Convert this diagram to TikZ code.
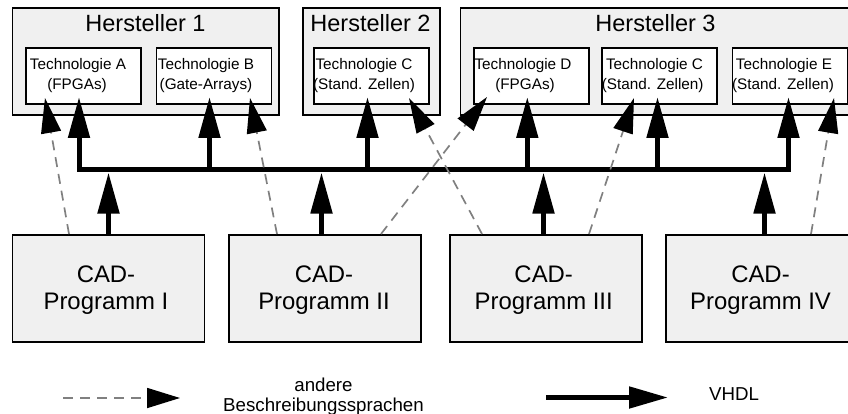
\documentclass[tikz,border=0pt]{standalone}
\usepackage{fontspec}
\setmainfont{Liberation Sans}
\usetikzlibrary{arrows.meta}
\definecolor{boxfill}{HTML}{F0F0F0}
\tikzset{
  x=1pt,y=-1pt,
  maker/.style={draw=black,line width=1.9pt,fill=boxfill,minimum height=107pt,anchor=north west,inner sep=0pt},
  tech/.style={draw=black,line width=1.9pt,fill=white,minimum width=115pt,minimum height=56pt,anchor=north west,inner sep=0pt},
  cad/.style={draw=black,line width=1.9pt,fill=boxfill,minimum width=192pt,minimum height=107pt,anchor=north west,inner sep=0pt},
  cadt/.style={inner sep=0pt,align=center,font=\fontsize{23.9}{26.5}\selectfont},
  mk/.style={font=\fontsize{23.5}{26}\selectfont,inner sep=0pt,anchor=base},
  tl/.style={font=\fontsize{15.3}{18}\selectfont,inner sep=0pt,anchor=base},
  lg/.style={font=\fontsize{18.7}{20}\selectfont,inner sep=0pt,anchor=base},
  vhdl/.style={line width=5pt,-{Triangle[length=41pt,width=21pt]}},
  other/.style={line width=1.7pt,draw=black!50,dash pattern=on 10pt off 7pt,-{Triangle[length=35pt,width=20pt,fill=black,color=black]}},
  bus/.style={line width=5pt,line cap=rect}
}
\begin{document}
\begin{tikzpicture}
\useasboundingbox (0,0) rectangle (848,414);
% makers
\node[maker,minimum width=266.5pt] (h1) at (11.5,7) {};
\node[maker,minimum width=137pt] (h2) at (302,7) {};
\node[maker,minimum width=396pt] (h3) at (459.5,7) {};
\node[mk] (h1t) at (145.5,32) {Hersteller 1};
\node[mk] (h2t) at (370.5,32) {Hersteller 2};
\node[mk] (h3t) at (655.5,32) {Hersteller 3};
% technologies
\node[tech] (ta) at (25,47) {};
\node[tech] (tb) at (155.5,47) {};
\node[tech] (tc) at (313,47) {};
\node[tech] (td) at (473,47) {};
\node[tech] (tf) at (601,47) {};
\node[tech] (te) at (731.5,47) {};
\node[tl] (ta1) at (78,70) {Technologie A};
\node[tl] (ta2) at (77,90) {(FPGAs)};
\node[tl] (tb1) at (206,70) {Technologie B};
\node[tl] (tb2) at (206,90) {(Gate-Arrays)};
\node[tl] (tc1) at (364,70) {Technologie C};
\node[tl] (tc2) at (364,90) {(Stand. Zellen)};
\node[tl] (td1) at (523,70) {Technologie D};
\node[tl] (td2) at (525,90) {(FPGAs)};
\node[tl] (tf1) at (654.5,70) {Technologie C};
\node[tl] (tf2) at (652.7,90) {(Stand. Zellen)};
\node[tl] (te1) at (784,70) {Technologie E};
\node[tl] (te2) at (783,90) {(Stand. Zellen)};
% CAD
\node[cad] (c1) at (11.5,234) {};
\node[cad] (c2) at (228,234) {};
\node[cad] (c3) at (449,234) {};
\node[cad] (c4) at (665,234) {};
\node[cadt] (c1t) at (106,290) {CAD-\\Programm I};
\node[cadt] (c2t) at (324,290) {CAD-\\Programm II};
\node[cadt] (c3t) at (543.7,290) {CAD-\\Programm III};
\node[cadt] (c4t) at (760.5,290) {CAD-\\Programm IV};
% bus
\coordinate (b1) at (79,170);
\coordinate (b2) at (209.5,170);
\coordinate (b3) at (367.5,170);
\coordinate (b4) at (527.3,170);
\coordinate (b5) at (657.5,170);
\coordinate (b6) at (788.5,170);
\coordinate (u1) at (108.5,172.5);
\coordinate (u2) at (321.5,172.5);
\coordinate (u3) at (543.5,172.5);
\coordinate (u4) at (764.5,172.5);
\draw[bus] (b1) -- (b6);
% dashed
\coordinate (da) at (45,98);
\coordinate (db) at (250,98);
\coordinate (dc) at (409,98);
\coordinate (dd) at (487,97);
\coordinate (df) at (634,98);
\coordinate (de) at (834,98);
\draw[other] (c1.north west) ++(57.5,0) coordinate (s1) (s1) -- (da);
\draw[other] (c2.north west) ++(49,0) coordinate (s2) (s2) -- (db);
\draw[other] (c3.north west) ++(33,0) coordinate (s3) (s3) -- (dc);
\draw[other] (c2.north west) ++(153,0) coordinate (s4) (s4) -- (dd);
\draw[other] (c3.north west) ++(140,0) coordinate (s5) (s5) -- (df);
\draw[other] (c4.north west) ++(146,0) coordinate (s6) (s6) -- (de);
% solid up
\coordinate (ta0) at (79,97);
\coordinate (tb0) at (209.5,97);
\coordinate (tc0) at (367.5,97);
\coordinate (td0) at (527.3,97);
\coordinate (tf0) at (657.5,97);
\coordinate (te0) at (788.5,97);
\draw[vhdl] (b1) -- (ta0);
\draw[vhdl] (b2) -- (tb0);
\draw[vhdl] (b3) -- (tc0);
\draw[vhdl] (b4) -- (td0);
\draw[vhdl] (b5) -- (tf0);
\draw[vhdl] (b6) -- (te0);
\coordinate (q1) at (108.5,234);
\coordinate (q2) at (321.5,234);
\coordinate (q3) at (543.5,234);
\coordinate (q4) at (764.5,234);
\draw[vhdl] (q1) -- (u1);
\draw[vhdl] (q2) -- (u2);
\draw[vhdl] (q3) -- (u3);
\draw[vhdl] (q4) -- (u4);
% legend
\coordinate (l1a) at (63,398);
\coordinate (l1b) at (180,398);
\coordinate (l2a) at (546,397.5);
\coordinate (l2b) at (668,397.5);
\draw[other,-{Triangle[length=33pt,width=20pt,fill=black,color=black]}] (l1a) -- (l1b);
\draw[vhdl,-{Triangle[length=39pt,width=21pt]}] (l2a) -- (l2b);
\node[lg] (t1) at (323.5,391) {andere};
\node[lg] (t2) at (323.5,411) {Beschreibungssprachen};
\node[lg] (t3) at (734,400) {VHDL};
\end{tikzpicture}
\end{document}
